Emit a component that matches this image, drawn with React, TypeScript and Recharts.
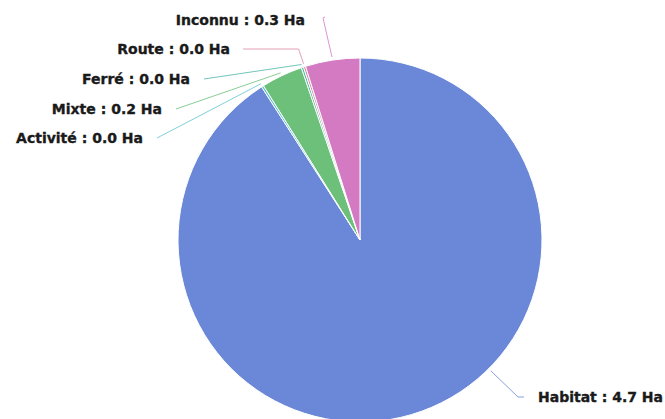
import React from 'react';
import { PieChart, Pie, Cell } from 'recharts';

// surfaces par type d'occupation (Ha), dans l'ordre horaire depuis midi
const CATEGORIES = ['Habitat', 'Activité', 'Mixte', 'Ferré', 'Route', 'Inconnu'];
const SURFACES = [4.7, 0.01, 0.19, 0.01, 0.01, 0.25];
const COLORS = ['#6a88d7', '#5fc4cf', '#6cc07a', '#4fb7a8', '#e08aa0', '#d37ac3'];

const data = CATEGORIES.map((name, i) => ({ name, value: SURFACES[i] }));

const RADIAN = Math.PI / 180;

// where each label sits, relative to the pie centre (text anchor point)
const LABEL_LAYOUT: Record<number, { dx: number; dy: number; side: 'left' | 'right'; anchorAngle?: number }> = {
  0: { dx: 178, dy: 157, side: 'right', anchorAngle: -45 },
  1: { dx: -217, dy: -102, side: 'left' },
  2: { dx: -198, dy: -131, side: 'left' },
  3: { dx: -170, dy: -161, side: 'left' },
  4: { dx: -130, dy: -191, side: 'left' },
  5: { dx: -55, dy: -220, side: 'left' },
};

const renderLabel = (props: any) => {
  const { cx, cy, midAngle, outerRadius, index, name, value } = props;
  const layout = LABEL_LAYOUT[index];
  const color = COLORS[index];
  const angle = layout.anchorAngle ?? midAngle;
  const ex = cx + (outerRadius + 3) * Math.cos(-angle * RADIAN);
  const ey = cy + (outerRadius + 3) * Math.sin(-angle * RADIAN);
  const tx = cx + layout.dx;
  const ty = cy + layout.dy;
  let d: string;
  if (layout.side === 'right') {
    d = `M${ex},${ey} L${tx - 20},${ty} L${tx - 14},${ty}`;
  } else if (index === 5) {
    d = `M${ex},${ey} L${tx + 18},${ty - 2} L${tx + 20},${ty - 3}`;
  } else if (index === 4) {
    d = `M${ex},${ey} L${ex - 5},${ty} L${tx + 13},${ty}`;
  } else {
    d = `M${ex},${ey} L${tx + 14},${ty}`;
  }
  return (
    <g key={`lbl-${index}`}>
      <path d={d} stroke={color} strokeWidth={1} fill="none" opacity={0.8} />
      <text
        x={tx}
        y={ty}
        textAnchor={layout.side === 'right' ? 'start' : 'end'}
        dominantBaseline="central"
        fill="#1a1a1a"
        stroke="#1a1a1a"
        strokeWidth={0.35}
        fontSize={14}
        fontWeight="bold"
        fontFamily="DejaVu Sans"
      >
        {`${name} : ${value.toFixed(1)} Ha`}
      </text>
    </g>
  );
};

export default function App() {
  return (
    <div style={{ position: 'absolute', left: 0, top: 0, width: 665, height: 419, overflow: 'hidden', background: '#fff' }}>
      <PieChart width={665} height={419} margin={{ top: 0, right: 0, bottom: 0, left: 0 }}>
        <Pie
          data={data}
          dataKey="value"
          nameKey="name"
          cx={360}
          cy={240}
          outerRadius={182}
          startAngle={90}
          endAngle={-270}
          stroke="#ffffff"
          strokeWidth={1}
          label={renderLabel}
          labelLine={false}
          isAnimationActive={false}
        >
          {data.map((entry, i) => (
            <Cell key={entry.name} fill={COLORS[i]} />
          ))}
        </Pie>
      </PieChart>
    </div>
  );
}
